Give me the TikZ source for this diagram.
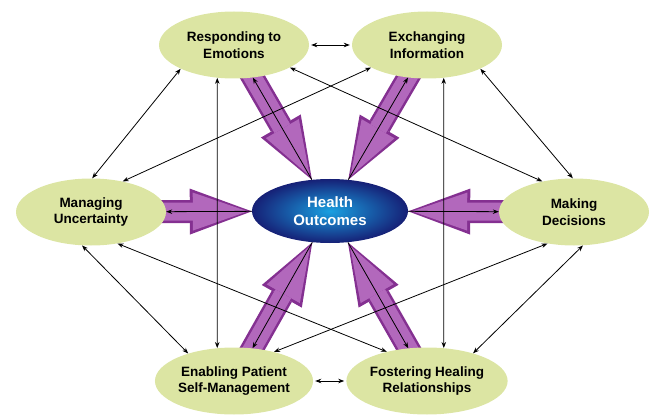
\documentclass[tikz,border=0pt]{standalone}
\usepackage{fontspec}
\setmainfont{Liberation Sans}
\usetikzlibrary{arrows.meta,backgrounds,shapes.geometric}
\definecolor{bubble}{RGB}{220,229,163}
\definecolor{navyblue}{RGB}{22,32,118}
\definecolor{skyblue}{RGB}{25,160,225}
\definecolor{plumdark}{RGB}{132,48,145}
\definecolor{plumlight}{RGB}{178,104,188}

\begin{document}
\begin{tikzpicture}[x=1pt,y=1pt,
  every node/.style={ellipse,align=center,inner sep=0pt,
    font=\bfseries\fontsize{13.5}{16.5}\selectfont},
  topic/.style={fill=bubble,minimum width=150pt,minimum height=67pt},
  outcome/.style={shade,inner color=skyblue,outer color=navyblue,text=white,
    minimum width=156pt,minimum height=64pt,font=\bfseries\fontsize{15}{18}\selectfont},
  bigout/.style={line width=23pt,draw=plumdark,
    -{Triangle[length=62pt,width=46pt,line width=0pt]}},
  bigin/.style={line width=18pt,draw=plumlight,shorten >=4pt,
    -{Triangle[length=55pt,width=38pt,line width=0pt]}},
  link/.style={line width=0.8pt,{Stealth[length=6pt,width=4.5pt]}-{Stealth[length=6pt,width=4.5pt]}},
  back/.style={line width=0.8pt,-{Stealth[length=6pt,width=4.5pt]}}
]
    \useasboundingbox (0,0) rectangle (665,416);
    \node[topic] (resp) at (234,371) {Responding to\\Emotions};
    \node[topic] (exch) at (427,371) {Exchanging\\Information};
    \node[topic] (unc) at (91,204) {Managing\\Uncertainty};
    \node[topic] (dec) at (574,204) {Making\\Decisions};
    \node[topic] (self) at (234,35) {Enabling Patient\\Self-Management};
    \node[topic] (heal) at (427,35) {Fostering Healing\\Relationships};
    \node[outcome] (health) at (330,205) {Health\\Outcomes};
    % big arrows into the centre
    \begin{scope}[on background layer]
    \foreach \n in {resp,exch,unc,dec,self,heal} {
        \draw[bigout] (\n.center) -- (health);
        \draw[bigin] (\n.center) -- (health);
    }
    \end{scope}
    \foreach \n in {resp,exch,unc,dec,self,heal}
        \draw[back] (health) -- (\n);
    % links between the outer topics
    \draw[link,shorten <=2pt,shorten >=2pt] (resp) -- (exch);
    \draw[link,shorten <=2pt,shorten >=2pt] (self) -- (heal);
    \draw[link] (resp.204) -- (unc.88);
    \draw[link] (exch.-24) -- (dec.92);
    \draw[link] (unc.-105) -- (self.149);
    \draw[link] (dec.-75) -- (heal.31);
    \draw[link] (resp.-117) -- (self.117);
    \draw[link] (exch.-63) -- (heal.63);
    \draw[link] (resp.-22) -- (dec.136);
    \draw[link] (exch.202) -- (unc.44);
    \draw[link] (unc.-50) -- (heal.144);
    \draw[link] (dec.230) -- (self.36);
\end{tikzpicture}
\end{document}
